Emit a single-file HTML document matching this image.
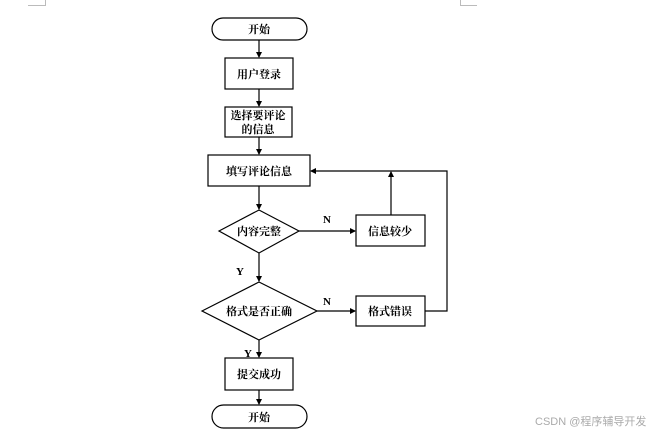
<!DOCTYPE html>
<html><head><meta charset="utf-8"><style>
html,body{margin:0;padding:0;background:#fff;}
svg{display:block;}
text{font-family:"Liberation Serif","Noto Serif CJK SC",serif;font-weight:bold;font-size:11px;fill:#000;}
</style></head><body>
<svg width="664" height="435" viewBox="0 0 664 435" xmlns="http://www.w3.org/2000/svg">
<defs><marker id="a" markerWidth="6" markerHeight="6" refX="5" refY="3" orient="auto" markerUnits="userSpaceOnUse"><path d="M0,0 L6,3 L0,6 z" fill="#000"/></marker></defs>
<g stroke="#bbb" stroke-width="1" fill="none">
<path d="M45.5,0 V5.5 H28"/><path d="M460.5,0 V5.5 H477"/>
</g>
<g stroke="#000" stroke-width="1.2" fill="none">
<rect x="212" y="18" width="95" height="22" rx="11"/>
<rect x="225" y="58" width="68" height="31"/>
<rect x="225" y="107" width="67" height="30"/>
<rect x="208" y="155" width="102" height="31"/>
<polygon points="219,231 259,210 299,231 259,253"/>
<rect x="356" y="215" width="69" height="31"/>
<polygon points="202,311 259,282 317,311 259,340"/>
<rect x="356" y="296" width="69" height="30"/>
<rect x="225" y="358" width="68" height="32"/>
<rect x="212" y="405" width="95" height="23" rx="11.5"/>
<line x1="259" y1="40" x2="259" y2="57" marker-end="url(#a)"/>
<line x1="259" y1="89" x2="259" y2="106" marker-end="url(#a)"/>
<line x1="259" y1="137" x2="259" y2="154" marker-end="url(#a)"/>
<line x1="259" y1="186" x2="259" y2="209" marker-end="url(#a)"/>
<line x1="259" y1="253" x2="259" y2="281" marker-end="url(#a)"/>
<line x1="259" y1="340" x2="259" y2="357" marker-end="url(#a)"/>
<line x1="259" y1="390" x2="259" y2="404" marker-end="url(#a)"/>
<line x1="299" y1="231" x2="355" y2="231" marker-end="url(#a)"/>
<line x1="317" y1="311" x2="355" y2="311" marker-end="url(#a)"/>
<line x1="391" y1="215" x2="391" y2="172" marker-end="url(#a)"/>
<polyline points="425,311 447,311 447,171 311,171" marker-end="url(#a)"/>
</g>
<g text-anchor="middle">
<text x="259" y="33">开始</text>
<text x="259" y="78">用户登录</text>
<text x="258" y="119">选择要评论</text>
<text x="258" y="133">的信息</text>
<text x="259" y="175">填写评论信息</text>
<text x="259" y="235">内容完整</text>
<text x="390" y="235">信息较少</text>
<text x="259" y="315">格式是否正确</text>
<text x="390" y="315">格式错误</text>
<text x="259" y="378">提交成功</text>
<text x="259" y="421">开始</text>
<text x="327" y="223">N</text>
<text x="240" y="275">Y</text>
<text x="327" y="305">N</text>
<text x="248" y="357">Y</text>
</g>
<text x="535" y="425" style="font-family:'Liberation Sans','Noto Sans CJK SC',sans-serif;font-weight:normal;font-size:11px;fill:#aaa;">CSDN @程序辅导开发</text>
</svg>
</body></html>
